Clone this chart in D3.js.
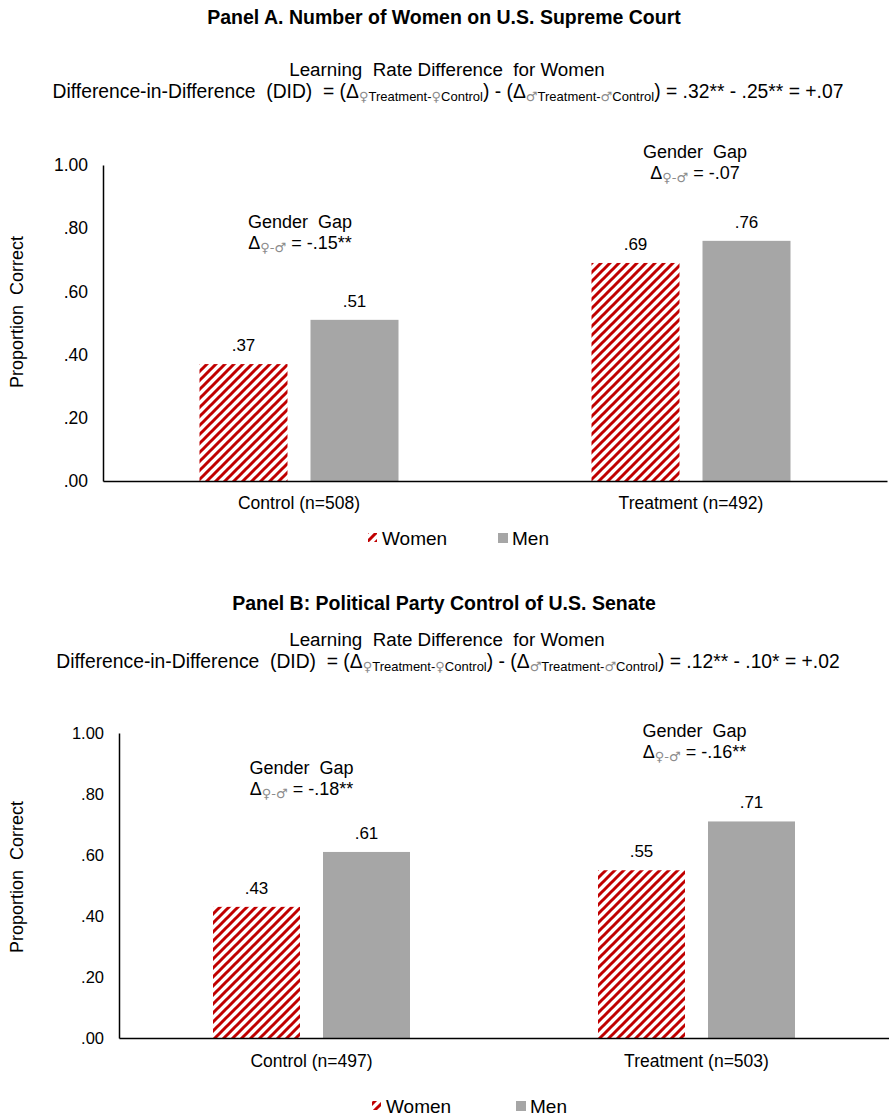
<!DOCTYPE html>
<html>
<head>
<meta charset="utf-8">
<script src="https://cdn.jsdelivr.net/npm/d3@7"></script>
<style>
  html, body { margin: 0; padding: 0; background: #fff; }
  svg text { font-family: "Liberation Sans", Arial, sans-serif; fill: #000; white-space: pre; }
  .sym { font-family: "DejaVu Sans", sans-serif; }
</style>
</head>
<body>
<svg id="chart" width="889" height="1117"></svg>
<script>
// ---------------- DATA ----------------
const panelTitles = ["Panel A. Number of Women on U.S. Supreme Court", "Panel B: Political Party Control of U.S. Senate"];
const subTitle = "Learning  Rate Difference  for Women";
const seriesNames = ["Women", "Men"];

const categoriesA = ["Control (n=508)", "Treatment (n=492)"];
const womenA = [0.37, 0.69];
const menA = [0.51, 0.76];
const gapA = ["-.15**", "-.07"];
const didA = [".32**", ".25**", "+.07"];

const categoriesB = ["Control (n=497)", "Treatment (n=503)"];
const womenB = [0.43, 0.55];
const menB = [0.61, 0.71];
const gapB = ["-.18**", "-.16**"];
const didB = [".12**", ".10*", "+.02"];

const yTicks = [0, 0.2, 0.4, 0.6, 0.8, 1.0];
const yTickLabels = [".00", ".20", ".40", ".60", ".80", "1.00"];

// ---------------- LAYOUT ----------------
const panels = [
  { title: panelTitles[0], cats: categoriesA, women: womenA, men: menA, gap: gapA, did: didA,
    titleY: 24, subY: 76, didY: 98, x0: 103, x1: 887, yBottom: 481, yTop: 165,
    catY: 509, legY: 538, legX: 368, tickFs: 17.5, groupW: 199, barGap: 23,
    gapPos: [{dx: 1, v: 0.82}, {dx: 4, v: 1.04}], ylabY: 312, legMenX: 498 },
  { title: panelTitles[1], cats: categoriesB, women: womenB, men: menB, gap: gapB, did: didB,
    titleY: 610, subY: 646, didY: 668, x0: 119, x1: 889, yBottom: 1038, yTop: 733,
    catY: 1067, legY: 1106, legX: 372, tickFs: 16.5, groupW: 197, barGap: 23,
    gapPos: [{dx: -10, v: 0.885}, {dx: -2, v: 1.007}], ylabY: 877, legMenX: 516 }
];

const svg = d3.select("#chart");
const defs = svg.append("defs");
const P = 9;
const pat = defs.append("pattern")
  .attr("id", "stripes")
  .attr("patternUnits", "userSpaceOnUse")
  .attr("width", P).attr("height", P);
pat.append("rect").attr("width", P).attr("height", P).attr("fill", "#fff");
pat.append("path")
  .attr("d", `M${-P/4},${P/4} L${P/4},${-P/4} M0,${P} L${P},0 M${P*0.75},${P*1.25} L${P*1.25},${P*0.75}`)
  .attr("stroke", "#c00000").attr("stroke-width", 3);

const GREY_SYM = "#8c8c8c";
const MEN_FILL = "#a6a6a6";
const SUB = 13;

panels.forEach((p) => {
  const g = svg.append("g");

  // Title
  g.append("text").attr("x", 444).attr("y", p.titleY)
    .attr("text-anchor", "middle").attr("font-weight", "bold").attr("font-size", 19.5)
    .text(p.title);

  // Subtitle
  g.append("text").attr("x", 447).attr("y", p.subY)
    .attr("text-anchor", "middle").attr("font-size", 18.8)
    .text(subTitle);

  // DID line
  const did = g.append("text").attr("x", 448).attr("y", p.didY)
    .attr("text-anchor", "middle").attr("font-size", 19.3);
  did.append("tspan").text("Difference-in-Difference  (DID)  = (");
  did.append("tspan").text("Δ");
  did.append("tspan").attr("class", "sym").attr("font-size", SUB).attr("dy", 3).attr("fill", GREY_SYM).text("♀");
  did.append("tspan").attr("font-size", SUB).text("Treatment");
  did.append("tspan").attr("font-size", SUB).text("-");
  did.append("tspan").attr("class", "sym").attr("font-size", SUB).attr("fill", GREY_SYM).text("♀");
  did.append("tspan").attr("font-size", SUB).text("Control");
  did.append("tspan").attr("dy", -3).text(") - (Δ");
  did.append("tspan").attr("class", "sym").attr("font-size", SUB).attr("dy", 3).attr("fill", GREY_SYM).text("♂");
  did.append("tspan").attr("font-size", SUB).text("Treatment-");
  did.append("tspan").attr("class", "sym").attr("font-size", SUB).attr("fill", GREY_SYM).text("♂");
  did.append("tspan").attr("font-size", SUB).text("Control");
  did.append("tspan").attr("dy", -3).text(`) = ${p.did[0]} - ${p.did[1]} = ${p.did[2]}`);

  // Scales
  const y = d3.scaleLinear().domain([0, 1]).range([p.yBottom, p.yTop]);
  const x0 = d3.scaleBand().domain(p.cats).range([p.x0, p.x1]).padding(0);
  const step = (p.groupW + p.barGap) / 2;
  const pin = p.barGap / step;
  const x1 = d3.scaleBand().domain(seriesNames)
    .range([(x0.bandwidth() - p.groupW) / 2, (x0.bandwidth() + p.groupW) / 2])
    .paddingInner(pin).paddingOuter(0);

  // Y axis
  const yAxis = d3.axisLeft(y).tickValues(yTicks)
    .tickFormat((d, i) => yTickLabels[i]).tickSize(0).tickPadding(15);
  const ya = g.append("g").attr("transform", `translate(${p.x0},0)`).call(yAxis);
  ya.select(".domain").attr("stroke", "#000").attr("stroke-width", 1.5);
  ya.selectAll("text").attr("font-size", p.tickFs).attr("font-family", "Liberation Sans, Arial, sans-serif").attr("fill", "#000");

  // Bars
  const rows = p.cats.map((c, i) => ({ cat: c, vals: [
    { s: "Women", v: p.women[i] }, { s: "Men", v: p.men[i] }] }));
  const grp = g.selectAll("g.grp").data(rows).join("g")
    .attr("class", "grp").attr("transform", d => `translate(${x0(d.cat)},0)`);
  grp.selectAll("rect").data(d => d.vals).join("rect")
    .attr("x", d => x1(d.s)).attr("width", x1.bandwidth())
    .attr("y", d => y(d.v)).attr("height", d => y(0) - y(d.v))
    .attr("fill", d => d.s === "Women" ? "url(#stripes)" : MEN_FILL);
  grp.selectAll("text.val").data(d => d.vals).join("text")
    .attr("class", "val")
    .attr("x", d => x1(d.s) + x1.bandwidth() / 2).attr("y", d => y(d.v) - 13)
    .attr("text-anchor", "middle").attr("font-size", 17)
    .text(d => d3.format(".2f")(d.v).replace(/^0/, ""));

  // X axis
  const xAxis = d3.axisBottom(x0).tickSize(0).tickPadding(0);
  const xa = g.append("g").attr("transform", `translate(0,${p.yBottom})`).call(xAxis);
  xa.select(".domain").attr("stroke", "#000").attr("stroke-width", 1.5);
  xa.selectAll("text").attr("font-size", 17.5).attr("font-family", "Liberation Sans, Arial, sans-serif")
    .attr("fill", "#000").attr("dy", null).attr("y", p.catY - p.yBottom);

  // Y label
  g.append("text").attr("transform", `translate(23,${p.ylabY}) rotate(-90)`)
    .attr("text-anchor", "middle").attr("font-size", 18).text("Proportion  Correct");

  // Gender gap annotations
  p.cats.forEach((c, i) => {
    const cx = x0(c) + x0.bandwidth() / 2 + p.gapPos[i].dx;
    const yy = y(p.gapPos[i].v);
    g.append("text").attr("x", cx).attr("y", yy + 6)
      .attr("text-anchor", "middle").attr("font-size", 18).text("Gender  Gap");
    const t = g.append("text").attr("x", cx).attr("y", yy + 27)
      .attr("text-anchor", "middle").attr("font-size", 18);
    t.append("tspan").text("Δ");
    t.append("tspan").attr("class", "sym").attr("font-size", SUB).attr("dy", 3).attr("fill", GREY_SYM).text("♀-♂");
    t.append("tspan").attr("dy", -3).text(` = ${p.gap[i]}`);
  });

  // Legend
  const leg = g.append("g");
  leg.append("rect").attr("x", p.legX).attr("y", p.legY - 5).attr("width", 9).attr("height", 9)
    .attr("fill", "url(#stripes)");
  leg.append("text").attr("x", p.legX + 14).attr("y", p.legY + 7).attr("font-size", 19).text(seriesNames[0]);
  leg.append("rect").attr("x", p.legMenX).attr("y", p.legY - 5).attr("width", 10).attr("height", 10)
    .attr("fill", MEN_FILL);
  leg.append("text").attr("x", p.legMenX + 14).attr("y", p.legY + 7).attr("font-size", 19).text(seriesNames[1]);
});
</script>
</body>
</html>
